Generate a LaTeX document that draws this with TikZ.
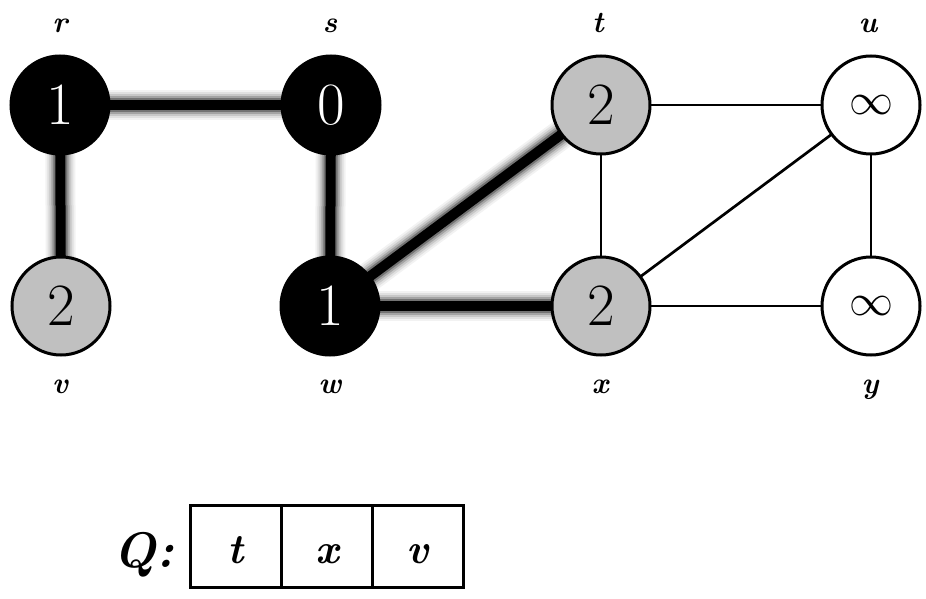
\documentclass[tikz,border=0pt]{standalone}
\pgfdeclarelayer{bg}
\pgfsetlayers{bg,main}
\definecolor{nodegray}{RGB}{192,192,192}
\newcommand{\bigInf}{\raisebox{-5pt}{\scalebox{4.4}{$\infty$}}}
\begin{document}
\begin{tikzpicture}[x=1pt,y=-1pt,
  vert/.style={circle,draw=black,line width=3pt,minimum size=98pt,inner sep=0pt,
    font=\fontsize{60}{60}\selectfont},
  blk/.style={vert,fill=black,text=white},
  gry/.style={vert,fill=nodegray},
  wht/.style={vert,fill=white},
  lbl/.style={anchor=base,inner sep=0pt,font=\fontsize{30}{30}\selectfont\bfseries\itshape},
  thinedge/.style={line width=2.7pt},
  cell/.style={rectangle,draw=black,line width=3pt,minimum width=91pt,minimum height=82pt,inner sep=0pt},
  qtext/.style={anchor=base,inner sep=0pt,font=\fontsize{42}{42}\selectfont\bfseries\itshape}
]
\useasboundingbox (0,0) rectangle (926,599);
% vertices
\node[blk] (r) at (60,105) {1};
\node[blk] (s) at (331,105) {0};
\node[gry] (t) at (601,105) {2};
\node[wht] (u) at (871,105) {\fontsize{10}{10}\selectfont\bigInf};
\node[gry] (v) at (61,306) {2};
\node[blk] (w) at (330,306) {1};
\node[gry] (x) at (601,306) {2};
\node[wht] (y) at (871,306) {\fontsize{10}{10}\selectfont\bigInf};
% labels
\node[lbl] (lr) at (60,33) {r};
\node[lbl] (ls) at (330,33) {s};
\node[lbl] (lt) at (598,33) {t};
\node[lbl] (lu) at (868,33) {u};
\node[lbl] (lv) at (60,393) {v};
\node[lbl] (lw) at (330,393) {w};
\node[lbl] (lx) at (600,393) {x};
\node[lbl] (ly) at (870,393) {y};
% edges
\begin{pgfonlayer}{bg}
\foreach \a/\b in {r/s,r/v,s/w,w/t,w/x}{
  \draw[line width=30pt,black!5] (\a.center)--(\b.center);
  \draw[line width=26pt,black!12] (\a.center)--(\b.center);
  \draw[line width=22pt,black!22] (\a.center)--(\b.center);
  \draw[line width=18pt,black!36] (\a.center)--(\b.center);
  \draw[line width=14pt,black!55] (\a.center)--(\b.center);
  \draw[line width=10pt,black] (\a.center)--(\b.center);
}
\foreach \a/\b in {t/u,t/x,x/u,u/y,x/y}{
  \draw[thinedge] (\a.center)--(\b.center);
}
\end{pgfonlayer}
% queue
\node[anchor=base,inner sep=0pt,font=\fontsize{50}{50}\selectfont\bfseries\itshape] (Q) at (144,567) {Q:};
\node[cell] (c1) at (236,546) {};
\node[cell] (c2) at (327,546) {};
\node[cell] (c3) at (418,546) {};
\node[qtext] (q1) at (236,563) {t};
\node[qtext] (q2) at (327,563) {x};
\node[qtext] (q3) at (418,563) {v};
\end{tikzpicture}
\end{document}
